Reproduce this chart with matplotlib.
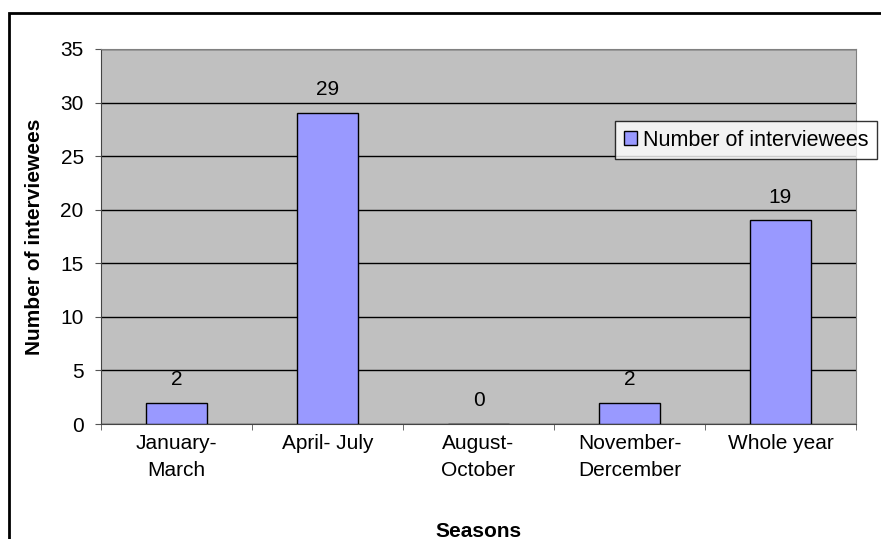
import matplotlib.pyplot as plt
from matplotlib.patches import Rectangle
import numpy as np

plt.rcParams['font.family'] = ['Liberation Sans', 'DejaVu Sans']

# dados
seasons = ['January-\nMarch', 'April- July', 'August-\nOctober', 'November-\nDercember', 'Whole year']
interviewees = [2, 29, 0, 2, 19]

fig = plt.figure(figsize=(8.81, 5.39), dpi=100)
ax = fig.add_axes([101 / 881, 115 / 539, 755 / 881, 375 / 539])

# moldura da figura
fig.patches.append(Rectangle((9 / 881, -0.1), 1.2, (539 - 13) / 539 + 0.1, transform=fig.transFigure,
                             fill=False, edgecolor='black', linewidth=2))

x = np.arange(len(seasons))
ax.set_facecolor('#C0C0C0')
bars = ax.bar(x, interviewees, width=0.4, color='#9999FF', edgecolor='black', linewidth=1,
              label='Number of interviewees', zorder=3)

for xi, v in zip(x, interviewees):
    ax.annotate(str(v), (xi, v), xytext=(0, 10), textcoords='offset points',
                ha='center', va='bottom', fontsize=15)

ax.set_xlim(-0.5, len(seasons) - 0.5)
ax.set_ylim(0, 35)
ax.set_yticks(range(0, 36, 5))
ax.yaxis.grid(True, color='black', linewidth=1, zorder=1)
ax.set_axisbelow(True)

ax.set_xticks(x)
ax.set_xticklabels(seasons, fontsize=15, linespacing=1.55)
ax.set_xticks(np.arange(-0.5, len(seasons)), minor=True)
ax.tick_params(axis='x', which='major', length=0, pad=7)
ax.tick_params(axis='x', which='minor', length=4, color='#555555')
ax.tick_params(axis='y', labelsize=15, length=4.5, pad=8, color='#555555')

for side in ['top', 'right']:
    ax.spines[side].set_color('#808080')
for side in ['left', 'bottom']:
    ax.spines[side].set_color('#444444')

ax.set_xlabel('Seasons', fontsize=15, fontweight='bold', labelpad=30)
ax.set_ylabel('Number of interviewees', fontsize=15, fontweight='bold', labelpad=12)

leg = ax.legend(loc='upper left', bbox_to_anchor=(615 / 881, (539 - 121) / 539),
                bbox_transform=fig.transFigure, fontsize=15.5, frameon=True, fancybox=False,
                handlelength=0.6, handleheight=0.6, handletextpad=0.3, borderpad=0.4,
                borderaxespad=0)
leg.get_frame().set_edgecolor('black')
leg.get_frame().set_linewidth(1)

plt.savefig('out.png', dpi=100)
